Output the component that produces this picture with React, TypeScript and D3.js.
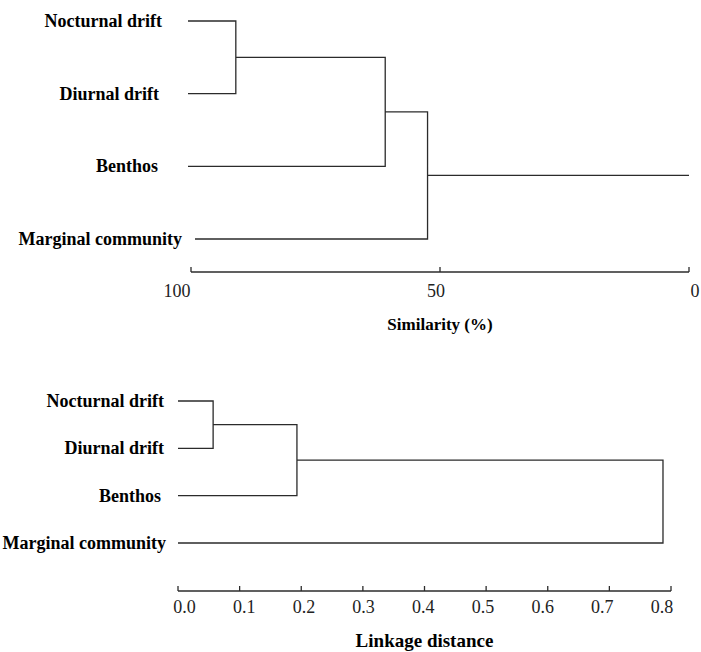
import React, { useEffect, useRef } from 'react';
import * as d3 from 'd3';

// leaves, top to bottom, in the order they join the tree
const leaves = ['Nocturnal drift', 'Diurnal drift', 'Benthos', 'Marginal community'];

// top dendrogram: similarity (%) at each merge
const similarityMerges = [91, 61, 52.5];
const similarityTicks = [100, 50, 0];

// bottom dendrogram: linkage distance at each merge
const linkageMerges = [0.057, 0.193, 0.787];
const linkageTicks = [0, 0.1, 0.2, 0.3, 0.4, 0.5, 0.6, 0.7, 0.8];

const W = 701;
const H = 652;
const FONT = 'Liberation Serif, Times New Roman, Times, DejaVu Serif, serif';
const INK = '#2b2b2b';

function drawDendrogram(svg, opts) {
  const {
    x, labelRange, merges, yTop, yBottom, leafStart, tailTo, labelEnd, labelDx,
    axisY, ticks, fmt, title, titleY, titleSize, tickLabelY,
  } = opts;

  const y = d3.scalePoint().domain(leaves).range([yTop, yBottom]);
  // tick labels in the original sit on a slightly different spread than the ticks
  const xLabel = d3.scaleLinear().domain(x.domain()).range(labelRange);
  const g = svg.append('g').attr('font-family', FONT);

  // leaf labels
  g.selectAll('text.leaf')
    .data(leaves)
    .enter()
    .append('text')
    .attr('class', 'leaf')
    .attr('x', (d, i) => labelEnd + labelDx[i])
    .attr('y', d => y(d))
    .attr('dy', '0.33em')
    .attr('text-anchor', 'end')
    .attr('font-weight', 'bold')
    .attr('font-size', 18)
    .text(d => d);

  // chain the merges: cluster so far + next leaf
  const p = d3.path();
  let cx = leafStart[0];
  let cy = y(leaves[0]);
  merges.forEach((m, i) => {
    const nx = x(m);
    const ly = y(leaves[i + 1]);
    p.moveTo(cx, cy);
    p.lineTo(nx, cy);
    p.lineTo(nx, ly);
    p.lineTo(leafStart[i + 1], ly);
    cx = nx;
    cy = (cy + ly) / 2;
  });
  if (tailTo != null) {
    p.moveTo(cx, cy);
    p.lineTo(x(tailTo), cy);
  }
  g.append('path')
    .attr('d', p.toString())
    .attr('fill', 'none')
    .attr('stroke', INK)
    .attr('stroke-width', 1.3);

  // axis with ticks pointing up
  const axis = g.append('g').attr('transform', `translate(0,${axisY})`);
  axis.append('line')
    .attr('x1', d3.min(x.range()))
    .attr('x2', d3.max(x.range()))
    .attr('stroke', INK)
    .attr('stroke-width', 1.3);
  axis.selectAll('line.tick')
    .data(ticks)
    .enter()
    .append('line')
    .attr('class', 'tick')
    .attr('x1', d => x(d))
    .attr('x2', d => x(d))
    .attr('y1', 0)
    .attr('y2', -5)
    .attr('stroke', INK)
    .attr('stroke-width', 1.3);
  axis.selectAll('text')
    .data(ticks)
    .enter()
    .append('text')
    .attr('x', d => xLabel(d))
    .attr('y', tickLabelY)
    .attr('text-anchor', 'middle')
    .attr('font-size', 18)
    .attr('fill', '#222')
    .text(fmt);

  g.append('text')
    .attr('x', (x.range()[0] + x.range()[1]) / 2)
    .attr('y', titleY)
    .attr('text-anchor', 'middle')
    .attr('font-weight', 'bold')
    .attr('font-size', titleSize)
    .text(title);
}

export default function App() {
  const ref = useRef<SVGSVGElement>(null);

  useEffect(() => {
    document.body.style.margin = '0';
    const svg = d3.select(ref.current);
    svg.selectAll('*').remove();

    const xSim = d3.scaleLinear().domain([100, 0]).range([191, 689]);
    drawDendrogram(svg, {
      x: xSim,
      labelRange: [177, 695],
      merges: similarityMerges,
      yTop: 21,
      yBottom: 239,
      leafStart: [188, 188, 188, 195],
      tailTo: 0,
      labelEnd: 162,
      labelDx: [0, -3, -4, 20],
      axisY: 272,
      ticks: similarityTicks,
      fmt: d => String(d),
      title: 'Similarity (%)',
      titleY: 330,
      titleSize: 17,
      tickLabelY: 25,
    });

    const xLink = d3.scaleLinear().domain([0, 0.8]).range([178, 671]);
    drawDendrogram(svg, {
      x: xLink,
      labelRange: [184.5, 662],
      merges: linkageMerges,
      yTop: 401,
      yBottom: 543,
      leafStart: [178, 178, 178, 178],
      tailTo: null,
      labelEnd: 164,
      labelDx: [0, 0, -3, 2],
      axisY: 591,
      ticks: linkageTicks,
      fmt: d3.format('.1f'),
      title: 'Linkage distance',
      titleY: 647,
      titleSize: 19,
      tickLabelY: 22,
    });
  }, []);

  return (
    <svg ref={ref} width={W} height={H} style={{ display: 'block', background: '#fff' }} />
  );
}
